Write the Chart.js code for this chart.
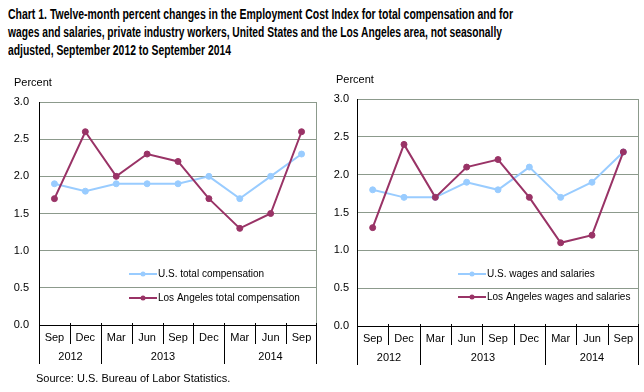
<!DOCTYPE html>
<html>
<head>
<meta charset="utf-8">
<script src="https://cdn.jsdelivr.net/npm/chart.js@4.4.1/dist/chart.umd.min.js"></script>
<style>
  body { margin: 0; background: #fff; }
  #wrap { position: relative; width: 644px; height: 392px; overflow: hidden; }
  .tl {
    position: absolute; left: 8px; white-space: nowrap;
    font: bold 14px "Liberation Sans", Arial, sans-serif;
    color: #000; transform-origin: 0 50%;
  }
  #source {
    position: absolute; left: 36px; top: 372px;
    font: 11px "Liberation Sans", Arial, sans-serif; color: #000;
  }
  .box { position: absolute; top: 0; width: 322px; height: 392px; }
</style>
</head>
<body>
<div id="wrap">
  <div class="tl" style="top:6px" data-w="505">Chart 1. Twelve-month percent changes in the Employment Cost Index for total compensation and for</div>
  <div class="tl" style="top:24px" data-w="494">wages and salaries, private industry workers, United States and the Los Angeles area, not seasonally</div>
  <div class="tl" style="top:42px" data-w="223">adjusted, September 2012 to September 2014</div>
  <div class="box" style="left:0"><canvas id="left"></canvas></div>
  <div class="box" style="left:322px"><canvas id="right"></canvas></div>
  <div id="source">Source: U.S. Bureau of Labor Statistics.</div>
</div>
<script>
// categories
const months = ["Sep", "Dec", "Mar", "Jun", "Sep", "Dec", "Mar", "Jun", "Sep"];
const years = ["2012", "2013", "2014"];
const yearCounts = [2, 4, 3];
const yTicks = [0, 0.5, 1.0, 1.5, 2.0, 2.5, 3.0];

// total compensation
const usTotal = [1.9, 1.8, 1.9, 1.9, 1.9, 2.0, 1.7, 2.0, 2.3];
const laTotal = [1.7, 2.6, 2.0, 2.3, 2.2, 1.7, 1.3, 1.5, 2.6];

// wages and salaries
const usWages = [1.8, 1.7, 1.7, 1.9, 1.8, 2.1, 1.7, 1.9, 2.3];
const laWages = [1.3, 2.4, 1.7, 2.1, 2.2, 1.7, 1.1, 1.2, 2.3];

const US_COLOR = "#99CCFF";
const LA_COLOR = "#993366";
const GRID = "#8C9A8C";
const FONT = '"Liberation Sans", Arial, sans-serif';

// titre condensé : on resserre chaque ligne à la largeur d'origine
document.querySelectorAll(".tl").forEach(el => {
  const w = el.getBoundingClientRect().width;
  el.style.transform = `scaleX(${el.dataset.w / w})`;
});

// axe x en deux niveaux + légende + libellé "Percent"
const decoPlugin = {
  id: "deco",
  afterDraw(chart, args, opts) {
    const { ctx, chartArea: a, scales: { x } } = chart;
    const n = months.length;
    const yearStarts = [];
    let acc = 0;
    yearCounts.forEach(c => { yearStarts.push(acc); acc += c; });

    const edge = i => {
      if (i === 0) return a.left + 0.5;
      if (i === n) return a.right - 0.5;
      return Math.round((x.getPixelForValue(i - 1) + x.getPixelForValue(i)) / 2) + 0.5;
    };

    ctx.save();
    // bord droit gris
    ctx.strokeStyle = GRID;
    ctx.lineWidth = 1;
    ctx.beginPath();
    ctx.moveTo(a.right - 0.5, a.top);
    ctx.lineTo(a.right - 0.5, a.bottom);
    ctx.stroke();

    // séparateurs
    ctx.strokeStyle = "#000";
    for (let i = 0; i <= n; i++) {
      const isYear = i === n || yearStarts.includes(i);
      const px = edge(i);
      ctx.beginPath();
      ctx.moveTo(px, a.bottom - 2);
      ctx.lineTo(px, a.bottom + (isYear ? 39 : 19));
      ctx.stroke();
    }

    // mois
    ctx.fillStyle = "#000";
    ctx.font = "11px " + FONT;
    ctx.textAlign = "center";
    ctx.textBaseline = "middle";
    months.forEach((m, i) => ctx.fillText(m, x.getPixelForValue(i), a.bottom + 13));

    // années
    years.forEach((yr, k) => {
      const first = yearStarts[k], last = first + yearCounts[k];
      const cx = (edge(first) + edge(last)) / 2;
      ctx.fillText(yr, cx, a.bottom + 32);
    });

    // "Percent"
    ctx.textAlign = "left";
    ctx.fillText("Percent", opts.percentX, opts.percentY);

    // légende dans la zone du graphique
    ctx.font = "10px " + FONT;
    opts.legendOrder.forEach((di, k) => {
      const ds = chart.data.datasets[di];
      const ly = opts.legendY + k * opts.legendGap;
      ctx.strokeStyle = ds.borderColor;
      ctx.lineWidth = 2;
      ctx.beginPath();
      ctx.moveTo(opts.legendX, ly);
      ctx.lineTo(opts.legendX + 28, ly);
      ctx.stroke();
      ctx.fillStyle = ds.backgroundColor;
      ctx.beginPath();
      ctx.arc(opts.legendX + 14, ly, 2.5, 0, Math.PI * 2);
      ctx.fill();
      ctx.fillStyle = "#000";
      ctx.fillText(ds.label, opts.legendX + 29, ly);
    });
    ctx.restore();
  }
};

function makeChart(id, usData, laData, usLabel, laLabel, cfg) {
  const ctx = document.getElementById(id).getContext("2d");
  return new Chart(ctx, {
    type: "line",
    data: {
      labels: months,
      datasets: [
        {
          label: usLabel,
          data: usData,
          borderColor: US_COLOR,
          backgroundColor: US_COLOR,
          borderWidth: 2,
          pointRadius: 3,
          pointBorderWidth: 1,
          tension: 0,
          order: 1
        },
        {
          label: laLabel,
          data: laData,
          borderColor: LA_COLOR,
          backgroundColor: LA_COLOR,
          borderWidth: 2,
          pointRadius: 3,
          pointBorderWidth: 1,
          tension: 0,
          order: 0
        }
      ]
    },
    options: {
      responsive: true,
      maintainAspectRatio: false,
      animation: false,
      layout: { padding: cfg.padding },
      plugins: {
        legend: { display: false },
        title: { display: false },
        tooltip: { enabled: false },
        deco: {
          percentX: cfg.percentX, percentY: cfg.percentY,
          legendX: cfg.legendX, legendY: cfg.legendY, legendGap: cfg.legendGap,
          legendOrder: [0, 1]
        }
      },
      scales: {
        x: { type: "category", offset: true, display: false },
        y: {
          min: 0,
          max: 3,
          afterBuildTicks: s => { s.ticks = yTicks.map(v => ({ value: v })); },
          afterFit: s => { s.width = cfg.axisWidth; },
          border: { display: true, color: "#000", width: 1 },
          grid: {
            drawTicks: false,
            color: c => (c.tick && c.tick.value === 0 ? "#000" : GRID),
            lineWidth: 1
          },
          ticks: {
            padding: cfg.tickPad,
            color: "#000",
            font: { size: 11, family: FONT },
            callback: v => Number(v).toFixed(1)
          }
        }
      }
    },
    plugins: [decoPlugin]
  });
}

makeChart("left", usTotal, laTotal, "U.S. total compensation", "Los Angeles total compensation", {
  padding: { top: 102, right: 3, bottom: 67, left: 0 },
  axisWidth: 39, tickPad: 10,
  percentX: 14, percentY: 83,
  legendX: 129, legendY: 274, legendGap: 24
});

makeChart("right", usWages, laWages, "U.S. wages and salaries", "Los Angeles wages and salaries", {
  padding: { top: 99, right: 5, bottom: 66, left: 0 },
  axisWidth: 35, tickPad: 8,
  percentX: 14, percentY: 80,
  legendX: 136, legendY: 274, legendGap: 23
});
</script>
</body>
</html>
